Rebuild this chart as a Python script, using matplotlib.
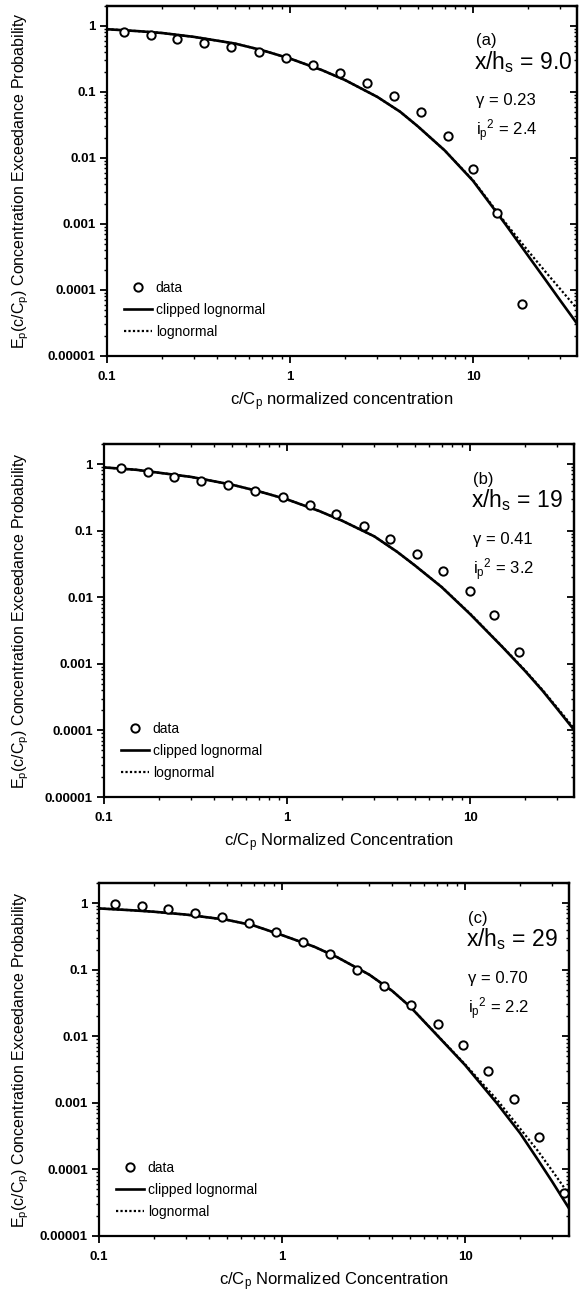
import matplotlib
matplotlib.use("Agg")
import matplotlib.pyplot as plt
from matplotlib.ticker import FixedLocator, FixedFormatter, LogLocator, NullFormatter

plt.rcParams['font.family'] = ['Liberation Sans', 'DejaVu Sans']
plt.rcParams['mathtext.fontset'] = 'custom'
plt.rcParams['mathtext.rm'] = 'Liberation Sans'
plt.rcParams['mathtext.it'] = 'Liberation Sans:italic'
plt.rcParams['mathtext.default'] = 'regular'

# measured exceedance probabilities (circles)
conc_a = [0.124, 0.173, 0.242, 0.34, 0.478, 0.678, 0.946, 1.34, 1.87, 2.64, 3.69, 5.17, 7.26, 10.0, 13.5, 18.5]
prob_a = [0.82, 0.73, 0.635, 0.56, 0.485, 0.40, 0.33, 0.26, 0.195, 0.135, 0.0875, 0.049, 0.0216, 0.0067, 0.00145, 6.1e-5]

conc_b = [0.124, 0.173, 0.241, 0.339, 0.476, 0.672, 0.95, 1.33, 1.86, 2.62, 3.67, 5.15, 7.1, 10.0, 13.6, 18.5]
prob_b = [0.87, 0.75, 0.65, 0.55, 0.48, 0.39, 0.32, 0.24, 0.175, 0.116, 0.076, 0.045, 0.025, 0.0125, 0.0054, 0.0015]

conc_c = [0.123, 0.171, 0.239, 0.335, 0.469, 0.661, 0.927, 1.30, 1.83, 2.58, 3.63, 5.06, 7.1, 9.8, 13.4, 18.5, 25.5, 34.8]
prob_c = [0.965, 0.89, 0.81, 0.72, 0.62, 0.51, 0.37, 0.26, 0.17, 0.10, 0.056, 0.0298, 0.0154, 0.0073, 0.0030, 0.00115, 0.00031, 4.4e-5]

# model curves
curve_x = [0.1, 0.15, 0.2, 0.3, 0.5, 0.7, 1, 1.5, 2, 3, 4, 5, 7, 10, 15, 20, 25, 30, 37]
clip_a = [0.89, 0.83, 0.78, 0.68, 0.54, 0.43, 0.32, 0.213, 0.151, 0.084, 0.050, 0.030, 0.013, 0.0045, 0.0010, 0.00033, 0.00014, 6.9e-5, 3.1e-5]
logn_a = [0.89, 0.83, 0.78, 0.68, 0.54, 0.43, 0.32, 0.213, 0.151, 0.084, 0.050, 0.030, 0.013, 0.0046, 0.00105, 0.00039, 0.000186, 0.000103, 5.2e-5]
clip_b = [0.89, 0.82, 0.74, 0.64, 0.49, 0.39, 0.295, 0.197, 0.141, 0.082, 0.048, 0.030, 0.0142, 0.0056, 0.0018, 0.00078, 0.00039, 0.00021, 0.000102]
logn_b = [0.89, 0.82, 0.74, 0.64, 0.49, 0.39, 0.295, 0.197, 0.141, 0.082, 0.048, 0.030, 0.0143, 0.0057, 0.00182, 0.0008, 0.0004, 0.000218, 0.000108]
clip_c = [0.83, 0.78, 0.74, 0.67, 0.56, 0.46, 0.33, 0.221, 0.154, 0.084, 0.048, 0.028, 0.0105, 0.0037, 0.00097, 0.00035, 0.00014, 6.5e-5, 2.6e-5]
logn_c = [0.83, 0.78, 0.74, 0.67, 0.56, 0.46, 0.33, 0.221, 0.154, 0.084, 0.048, 0.028, 0.0106, 0.0038, 0.0011, 0.00041, 0.00019, 9.5e-5, 4.2e-5]

panel_tags = ['(a)', '(b)', '(c)']
distances = ['9.0', '19', '29']
gammas = ['0.23', '0.41', '0.70']
ip2 = ['2.4', '3.2', '2.2']
xlabels = ['c/C$_p$ normalized concentration',
           'c/C$_p$ Normalized Concentration',
           'c/C$_p$ Normalized Concentration']
ytick_vals = [1e-5, 1e-4, 1e-3, 1e-2, 1e-1, 1]
ytick_text = ['0.00001', '0.0001', '0.001', '0.01', '0.1', '1']
xtick_vals = [0.1, 1, 10]
xtick_text = ['0.1', '1', '10']

W, H = 581, 1300
fig = plt.figure(figsize=(W / 100, H / 100), dpi=100)

# axes boxes in pixels: left, right, top, bottom
boxes = [(107, 577, 6, 356), (104, 574, 444, 797), (99, 569, 883, 1236)]

datasets = [(conc_a, prob_a, clip_a, logn_a),
            (conc_b, prob_b, clip_b, logn_b),
            (conc_c, prob_c, clip_c, logn_c)]

for i in range(3):
    l, r, t, b = boxes[i]
    ax = fig.add_axes([l / W, 1 - b / H, (r - l) / W, (b - t) / H])
    cx, cy, cl, ln = datasets[i]

    ax.plot(cx, cy, 'o', mfc='white', mec='black', ms=6, mew=1.4, label='data', zorder=3)
    ax.plot(curve_x, cl, '-', color='black', lw=1.9, label='clipped lognormal')
    ax.plot(curve_x, ln, color='black', lw=1.6, ls=(0, (1, 1)), label='lognormal')

    ax.set_xscale('log')
    ax.set_yscale('log')
    ax.set_xlim(0.1, 37)
    ax.set_ylim(1e-5, 2)

    ax.yaxis.set_major_locator(FixedLocator(ytick_vals))
    ax.yaxis.set_major_formatter(FixedFormatter(ytick_text))
    ax.xaxis.set_major_locator(FixedLocator(xtick_vals))
    ax.xaxis.set_major_formatter(FixedFormatter(xtick_text))
    ax.yaxis.set_minor_locator(LogLocator(base=10, subs=range(2, 10)))
    ax.xaxis.set_minor_locator(LogLocator(base=10, subs=range(2, 10)))
    ax.yaxis.set_minor_formatter(NullFormatter())
    ax.xaxis.set_minor_formatter(NullFormatter())
    ax.tick_params(which='major', direction='out', length=5, width=1.3, labelsize=9.5, pad=3)
    ax.tick_params(axis='x', which='major', pad=6)
    ax.tick_params(which='minor', direction='out', length=2.5, width=1.0)
    for lab in ax.get_xticklabels() + ax.get_yticklabels():
        lab.set_fontweight('bold')

    top = ax.secondary_xaxis('top')
    top.tick_params(which='major', direction='in', length=5, width=1.3, labeltop=False)
    top.tick_params(which='minor', direction='in', length=2.5, width=1.0)
    right = ax.secondary_yaxis('right')
    right.tick_params(which='major', direction='in', length=5, width=1.3, labelright=False)
    right.tick_params(which='minor', direction='in', length=2.5, width=1.0)
    for s in list(ax.spines.values()) + list(top.spines.values()) + list(right.spines.values()):
        s.set_linewidth(1.6)

    ax.set_xlabel(xlabels[i], fontsize=12)
    ax.xaxis.set_label_coords(0.5, -34.0 / (b - t))
    ax.set_ylabel('E$_p$(c/C$_p$) Concentration Exceedance Probability', fontsize=11.5)
    ax.yaxis.set_label_coords((31 - l) / (r - l), 0.5)

    ax.text(0.785, 0.9, panel_tags[i], transform=ax.transAxes, fontsize=12, va='center')
    ax.text(0.78, 0.84, 'x/h$_s$ = ' + distances[i], transform=ax.transAxes, fontsize=16.5, va='center')
    ax.text(0.785, 0.73, '\u03b3 = ' + gammas[i], transform=ax.transAxes, fontsize=12, va='center')
    ax.text(0.785, 0.645, 'i$_p$$^2$ = ' + ip2[i], transform=ax.transAxes, fontsize=12, va='center')

    ax.legend(loc='lower left', bbox_to_anchor=(0.015, 0.02), frameon=False, fontsize=10,
              handlelength=2.0, handletextpad=0.3, labelspacing=0.6, borderaxespad=0.3)

fig.savefig('out.png', dpi=100)
